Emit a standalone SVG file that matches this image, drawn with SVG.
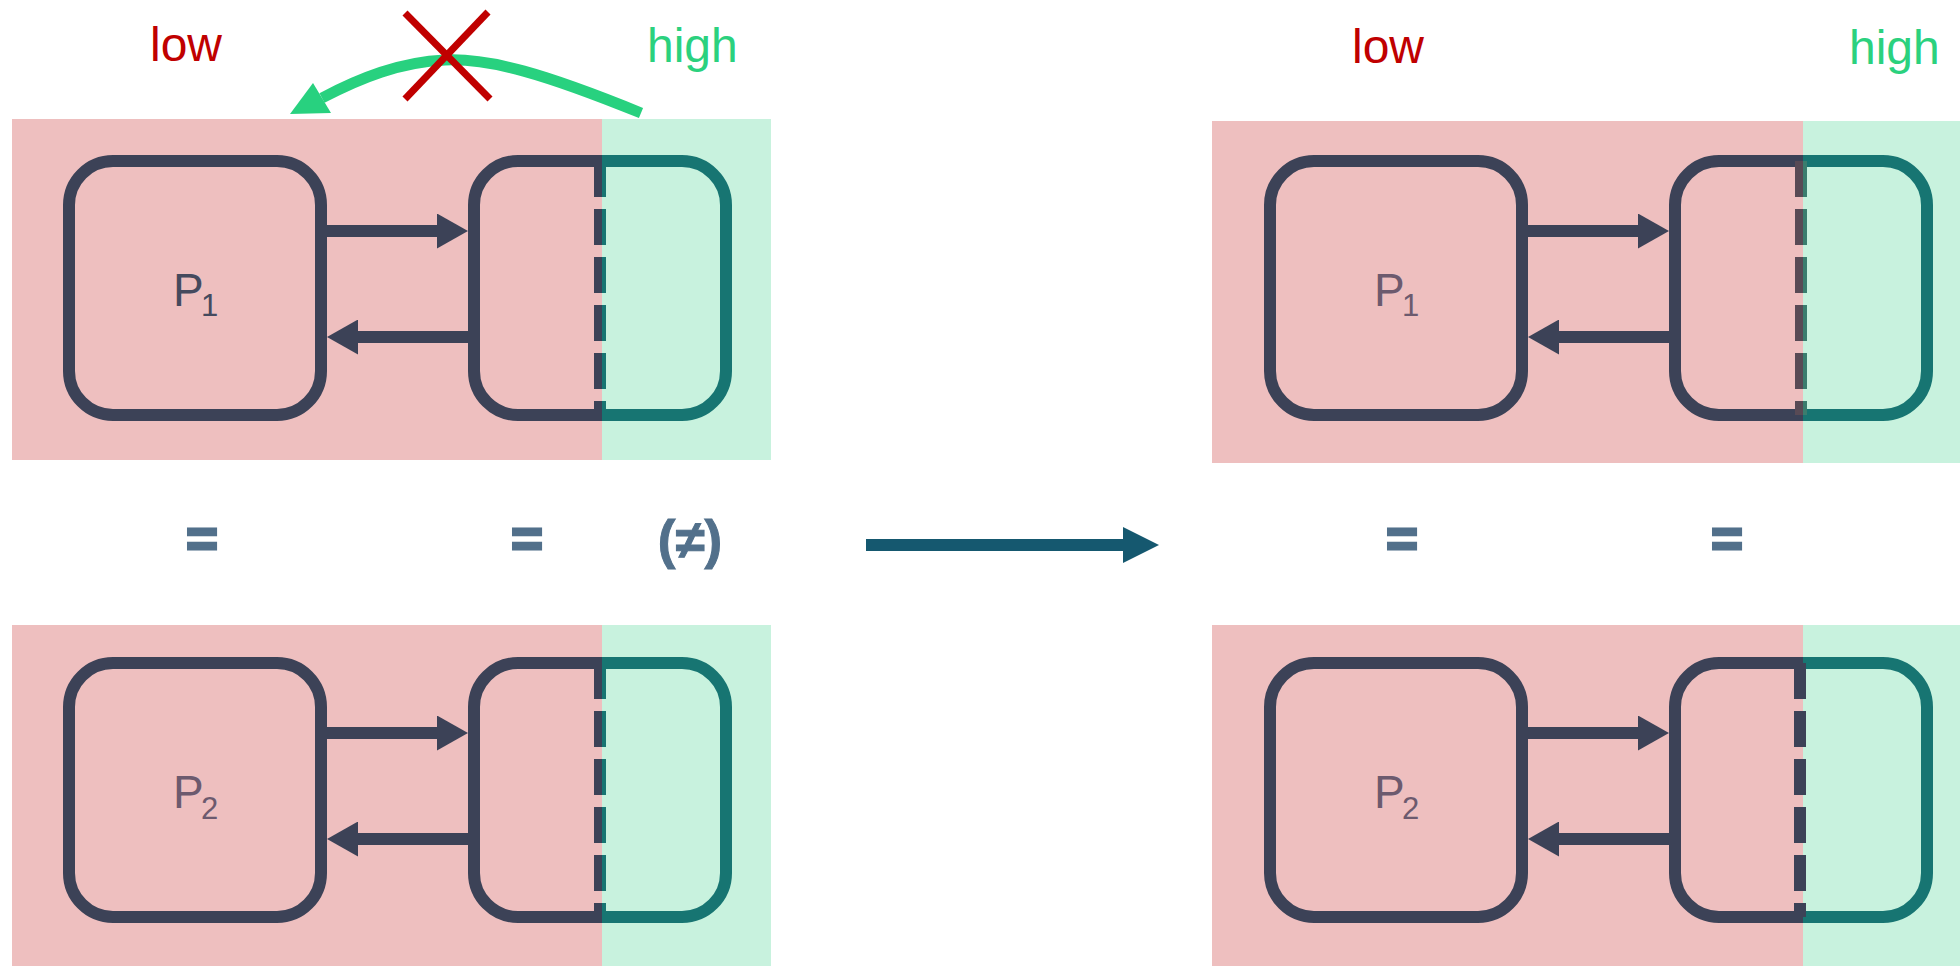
<svg xmlns="http://www.w3.org/2000/svg" width="1960" height="966" viewBox="0 0 1960 966">
<style>
.pink{fill:#eebfbf}
.mint{fill:#c8f2de}
.box{fill:none;stroke:#3c4257;stroke-width:12}
.boxT{fill:none;stroke:#177572;stroke-width:12}
.dash{stroke-width:12;stroke-dasharray:36 12;fill:none}
.lbl{font-family:"Liberation Sans",Arial,sans-serif;fill:#6c5a6e}
.eq{font-family:"Liberation Sans",Arial,sans-serif;font-weight:bold;fill:#52708b;stroke:#52708b;stroke-width:3;text-anchor:middle}
.shaft{stroke:#3c4257;stroke-width:12;fill:none}
</style>
<defs>
<clipPath id="cl" clipPathUnits="userSpaceOnUse"><rect x="0" y="0" width="602" height="966"/></clipPath>
<clipPath id="cr" clipPathUnits="userSpaceOnUse"><rect x="602" y="0" width="400" height="966"/></clipPath>
<marker id="ah" markerUnits="userSpaceOnUse" markerWidth="31" markerHeight="35" refX="0" refY="17.5" orient="auto" viewBox="0 0 31 35"><path d="M0,0 L31,17.5 L0,35 z" fill="#3c4257"/></marker>
<marker id="ahBig" markerUnits="userSpaceOnUse" markerWidth="36" markerHeight="36" refX="0" refY="18" orient="auto" viewBox="0 0 36 36"><path d="M0,0 L36,18 L0,36 z" fill="#15586f"/></marker>
</defs>

<g id="regions">
<rect class="pink" x="12" y="119" width="590" height="341"/>
<rect class="mint" x="602" y="119" width="169" height="341"/>
<rect class="pink" x="12" y="625" width="590" height="341"/>
<rect class="mint" x="602" y="625" width="169" height="341"/>
<rect class="pink" x="1212" y="121" width="591" height="342"/>
<rect class="mint" x="1803" y="121" width="157" height="342"/>
<rect class="pink" x="1212" y="625" width="591" height="341"/>
<rect class="mint" x="1803" y="625" width="157" height="341"/>
</g>

<g id="labels-left">
<text x="150" y="61" font-family="Liberation Sans, Arial, sans-serif" font-size="48" fill="#c00000">low</text>
<text x="647" y="62" font-family="Liberation Sans, Arial, sans-serif" font-size="48" fill="#2bd17e">high</text>
</g>
<g id="labels-right">
<text x="1352" y="63" font-family="Liberation Sans, Arial, sans-serif" font-size="48" fill="#c00000">low</text>
<text x="1849" y="64" font-family="Liberation Sans, Arial, sans-serif" font-size="48" fill="#2bd17e">high</text>
</g>

<g id="P1-left">
<rect class="box" x="69" y="161" width="252" height="254" rx="44"/>
<text class="lbl" x="173" y="306" font-size="46" style="fill:#454a5e">P<tspan x="201" y="316" font-size="31">1</tspan></text>
</g>
<g id="chan1-left">
<g clip-path="url(#cl)"><rect class="box" x="474" y="161" width="252" height="254" rx="44"/><line class="dash" x1="600" y1="161" x2="600" y2="415" stroke="#3c4257"/></g>
<g clip-path="url(#cr)"><rect class="boxT" x="474" y="161" width="252" height="254" rx="44"/><line class="dash" x1="600" y1="161" x2="600" y2="415" stroke="#177572"/></g>
</g>

<g id="P2-left" transform="translate(0,502)">
<rect class="box" x="69" y="161" width="252" height="254" rx="44"/>
<text class="lbl" x="173" y="306" font-size="46">P<tspan x="201" y="317" font-size="31">2</tspan></text>
</g>
<g id="chan2-left" transform="translate(0,502)">
<g clip-path="url(#cl)"><rect class="box" x="474" y="161" width="252" height="254" rx="44"/><line class="dash" x1="600" y1="161" x2="600" y2="415" stroke="#3c4257"/></g>
<g clip-path="url(#cr)"><rect class="boxT" x="474" y="161" width="252" height="254" rx="44"/><line class="dash" x1="600" y1="161" x2="600" y2="415" stroke="#177572"/></g>
</g>

<g id="P1-right" transform="translate(1201,0)">
<rect class="box" x="69" y="161" width="252" height="254" rx="44"/>
<text class="lbl" x="173" y="306" font-size="46">P<tspan x="201" y="316" font-size="31">1</tspan></text>
</g>
<g id="chan1-right" transform="translate(1201,0)">
<g clip-path="url(#cl)"><rect class="box" x="474" y="161" width="252" height="254" rx="44"/><line class="dash" x1="600" y1="161" x2="600" y2="415" stroke="#584a55"/></g>
<g clip-path="url(#cr)"><rect class="boxT" x="474" y="161" width="252" height="254" rx="44"/><line class="dash" x1="600" y1="161" x2="600" y2="415" stroke="#3a7d6e"/></g>
</g>

<g id="P2-right" transform="translate(1201,502)">
<rect class="box" x="69" y="161" width="252" height="254" rx="44"/>
<text class="lbl" x="173" y="306" font-size="46">P<tspan x="201" y="317" font-size="31">2</tspan></text>
</g>
<g id="chan2-right" transform="translate(1201,502)">
<g clip-path="url(#cl)"><rect class="box" x="474" y="161" width="252" height="254" rx="44"/></g>
<g clip-path="url(#cr)"><rect class="boxT" x="474" y="161" width="252" height="254" rx="44"/></g>
<line class="dash" x1="599" y1="161" x2="599" y2="415" stroke="#3c4257"/>
</g>

<g id="equalities">
<text class="eq" x="202" y="557" font-size="54">=</text>
<text class="eq" x="527" y="557" font-size="54">=</text>
<text class="eq" x="690" y="558" font-size="53" style="stroke-width:1">(≠)</text>
<text class="eq" x="1402" y="557" font-size="54">=</text>
<text class="eq" x="1727" y="557" font-size="54">=</text>
</g>

<g id="connectors">
<line class="shaft" x1="327" y1="231" x2="437" y2="231" marker-end="url(#ah)"/>
<line class="shaft" x1="468" y1="337" x2="358" y2="337" marker-end="url(#ah)"/>
<line class="shaft" x1="327" y1="733" x2="437" y2="733" marker-end="url(#ah)"/>
<line class="shaft" x1="468" y1="839" x2="358" y2="839" marker-end="url(#ah)"/>
<line class="shaft" x1="1528" y1="231" x2="1638" y2="231" marker-end="url(#ah)"/>
<line class="shaft" x1="1669" y1="337" x2="1559" y2="337" marker-end="url(#ah)"/>
<line class="shaft" x1="1528" y1="733" x2="1638" y2="733" marker-end="url(#ah)"/>
<line class="shaft" x1="1669" y1="839" x2="1559" y2="839" marker-end="url(#ah)"/>
<line x1="866" y1="545" x2="1123" y2="545" stroke="#15586f" stroke-width="12" marker-end="url(#ahBig)"/>
<path d="M641,113 C545,74 490,58 445,60 C400,62 360,78 322,98" fill="none" stroke="#28d17f" stroke-width="11"/>
<polygon points="290,114 313,83 331,113" fill="#28d17f"/>
<line x1="405" y1="13" x2="490" y2="99" stroke="#c00000" stroke-width="7"/>
<line x1="488" y1="12" x2="405" y2="99" stroke="#c00000" stroke-width="7"/>
</g>
</svg>
